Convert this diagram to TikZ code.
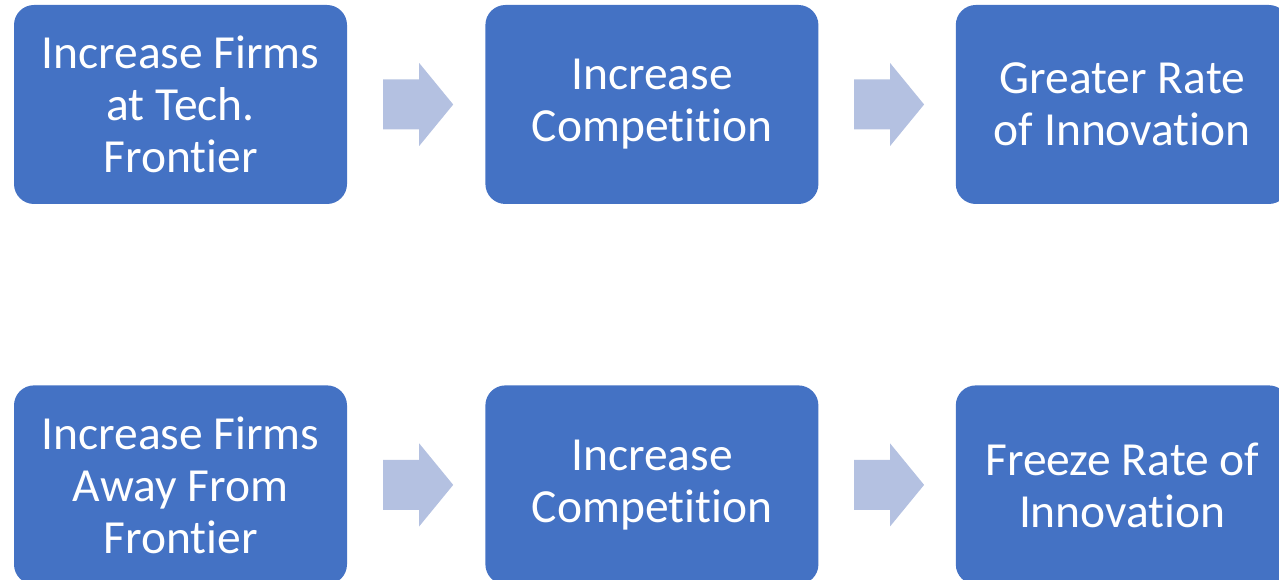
\documentclass[tikz,border=0pt]{standalone}
\usepackage{fontspec}
\setmainfont{Carlito}[Ligatures=NoCommon]
\usetikzlibrary{positioning,calc}
\definecolor{boxblue}{HTML}{4472C4}
\definecolor{arrowblue}{HTML}{B4C1E1}
\tikzset{
    stagebox/.style={rectangle, rounded corners=20pt, fill=boxblue, text=white,
        minimum width=333pt, minimum height=199pt, align=center, inner sep=0pt,
        font=\fontsize{47.5}{52}\selectfont},
    flowarrow/.pic={\fill[arrowblue] (-35,-25) -- (1,-25) -- (1,-41.5) -- (35,0)
        -- (1,41.5) -- (1,25) -- (-35,25) -- cycle;}
}
\begin{document}
\begin{tikzpicture}[x=1pt,y=1pt]
    \useasboundingbox (0,0) rectangle (1279,580);
    \clip (0,0) rectangle (1279,580);

    %top row
    \node[stagebox] (top1) at (180.5,475.5) {Increase Firms\\at Tech.\\Frontier};
    \node[stagebox, right=138pt of top1] (top2) {Increase\\Competition};
    \node[stagebox, right=137pt of top2] (top3) {Greater Rate\\of Innovation};

    %bottom row
    \node[stagebox, below=181pt of top1] (bot1) {Increase Firms\\Away From\\Frontier};
    \node[stagebox, right=138pt of bot1] (bot2) {Increase\\Competition};
    \node[stagebox, right=137pt of bot2] (bot3) {Freeze Rate of\\Innovation};

    %arrows
    \pic at ($(top1.east)!0.5!(top2.west)+(2,0)$) {flowarrow};
    \pic at ($(top2.east)!0.5!(top3.west)+(2,0)$) {flowarrow};
    \pic at ($(bot1.east)!0.5!(bot2.west)+(2,0)$) {flowarrow};
    \pic at ($(bot2.east)!0.5!(bot3.west)+(2,0)$) {flowarrow};
\end{tikzpicture}
\end{document}
